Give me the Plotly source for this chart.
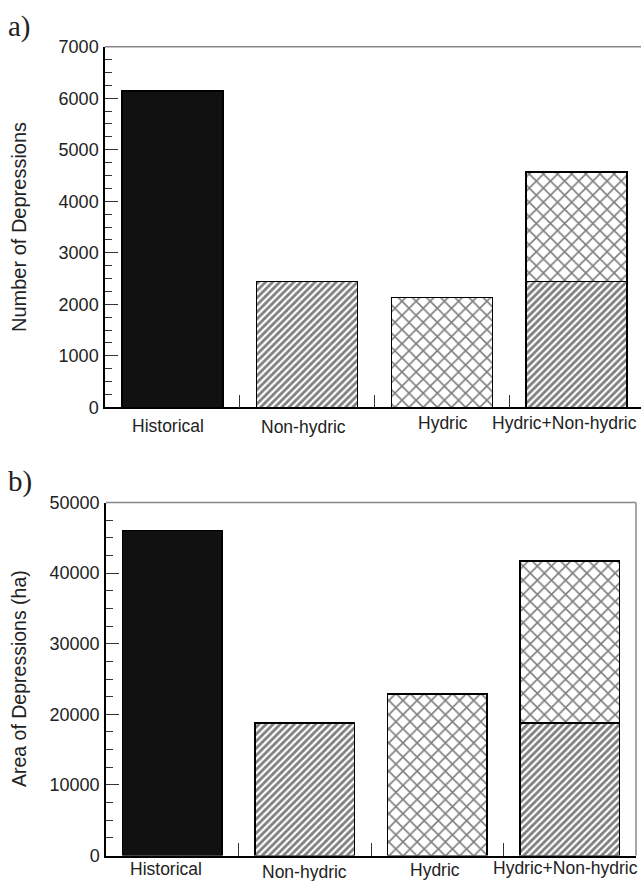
import plotly.graph_objects as go

W, H = 641, 881

categories = ["Historical", "Non-hydric", "Hydric", "Hydric+Non-hydric"]

# Panel a) Number of depressions
count_historical = [6140, None, None, None]
count_nonhydric = [None, 2440, None, 2440]
count_hydric = [None, None, 2130, 2130]

# Panel b) Area of depressions (ha)
area_historical = [46000, None, None, None]
area_nonhydric = [None, 18800, None, 18800]
area_hydric = [None, None, 22900, 22900]

yticks_a = [0, 1000, 2000, 3000, 4000, 5000, 6000, 7000]
yticks_b = [0, 10000, 20000, 30000, 40000, 50000]

FONT = "Liberation Sans, Arial, Helvetica, sans-serif"
SERIF = "Liberation Serif, Times New Roman, serif"

fig = go.Figure()

def add_panel(hist, nonh, hyd, xa, ya):
    fig.add_trace(go.Bar(x=categories, y=hist, xaxis=xa, yaxis=ya, width=0.75,
                         marker=dict(color="#111111", line=dict(color="black", width=1.5)),
                         showlegend=False))
    fig.add_trace(go.Bar(x=categories, y=nonh, xaxis=xa, yaxis=ya, width=0.75,
                         marker=dict(color="white", line=dict(color="black", width=1.5),
                                     pattern=dict(shape="/", size=5, solidity=0.55,
                                                  fgcolor="black", bgcolor="white")),
                         showlegend=False))
    fig.add_trace(go.Bar(x=categories, y=hyd, xaxis=xa, yaxis=ya, width=0.75,
                         marker=dict(color="white", line=dict(color="black", width=1.5),
                                     pattern=dict(shape="x", size=10, solidity=0.3,
                                                  fgcolor="black", bgcolor="white")),
                         showlegend=False))

add_panel(count_historical, count_nonhydric, count_hydric, "x", "y")
add_panel(area_historical, area_nonhydric, area_hydric, "x2", "y2")

def px_x(v):
    return v / W

def px_y(v):
    return 1 - v / H

common_x = dict(type="category", showgrid=False, zeroline=False, showline=True,
                linecolor="black", linewidth=1.5, ticks="inside", tickson="boundaries",
                ticklen=13, tickcolor="#333", tickwidth=1, showticklabels=False)
common_y = dict(showgrid=False, zeroline=False, showline=True, linecolor="black",
                linewidth=1.5, ticks="inside", ticklen=13, tickcolor="#333", tickwidth=1,
                tickfont=dict(family=FONT, size=18, color="#222"),
                ticklabelstandoff=1)

fig.update_layout(
    width=W, height=H,
    margin=dict(l=0, r=0, t=0, b=0, autoexpand=False),
    paper_bgcolor="white", plot_bgcolor="white",
    barmode="stack", bargap=0.25,
    xaxis=dict(domain=[px_x(105), 1.0], range=[-0.5, 3.478], anchor="y", **common_x),
    yaxis=dict(domain=[px_y(407.3), px_y(46.7)], range=[0, 7000], tickvals=yticks_a,
               ticktext=[str(v) for v in yticks_a],
               anchor="x", minor=dict(dtick=250, ticks="inside", ticklen=7, tickcolor="#333"),
               **common_y),
    xaxis2=dict(domain=[px_x(106), px_x(636)], range=[-0.5, 3.5], anchor="y2", **common_x),
    yaxis2=dict(domain=[px_y(855.5), px_y(502.5)], range=[0, 50000], tickvals=yticks_b,
                ticktext=[str(v) for v in yticks_b],
                anchor="x2", minor=dict(dtick=2500, ticks="inside", ticklen=7, tickcolor="#333"),
                **common_y),
)

# gray frame lines (top and right)
fig.add_shape(type="line", xref="paper", yref="paper", x0=px_x(105), x1=1.0,
              y0=px_y(46.7), y1=px_y(46.7), line=dict(color="#888", width=1.5))
fig.add_shape(type="line", xref="paper", yref="paper", x0=px_x(106), x1=px_x(636),
              y0=px_y(502.5), y1=px_y(502.5), line=dict(color="#888", width=1.5))
fig.add_shape(type="line", xref="paper", yref="paper", x0=px_x(636), x1=px_x(636),
              y0=px_y(855.5), y1=px_y(502.5), line=dict(color="#888", width=1.5))

# category labels (positions in pixels: center x, text middle y)
labels_a = [(168, 426), (303, 427), (443, 423), (564, 423)]
labels_b = [(166, 869), (304, 872), (435, 870), (565, 868)]
for cat, (cx, cy) in zip(categories, labels_a):
    fig.add_annotation(text=cat, xref="paper", yref="paper", x=px_x(cx), y=px_y(cy),
                       xanchor="center", yanchor="middle", showarrow=False,
                       font=dict(family=FONT, size=17.5, color="#222"))
for cat, (cx, cy) in zip(categories, labels_b):
    fig.add_annotation(text=cat, xref="paper", yref="paper", x=px_x(cx), y=px_y(cy),
                       xanchor="center", yanchor="middle", showarrow=False,
                       font=dict(family=FONT, size=17.5, color="#222"))

# axis titles
fig.add_annotation(text="Number of Depressions", xref="paper", yref="paper",
                   x=px_x(19), y=px_y(227), xanchor="center", yanchor="middle",
                   textangle=-90, showarrow=False, font=dict(family=FONT, size=20, color="#222"))
fig.add_annotation(text="Area of Depressions (ha)", xref="paper", yref="paper",
                   x=px_x(19), y=px_y(679), xanchor="center", yanchor="middle",
                   textangle=-90, showarrow=False, font=dict(family=FONT, size=19.5, color="#222"))

# panel letters
fig.add_annotation(text="a)", xref="paper", yref="paper", x=px_x(6), y=px_y(26),
                   xanchor="left", yanchor="middle", showarrow=False,
                   font=dict(family=SERIF, size=29, color="#222"))
fig.add_annotation(text="b)", xref="paper", yref="paper", x=px_x(6), y=px_y(481),
                   xanchor="left", yanchor="middle", showarrow=False,
                   font=dict(family=SERIF, size=29, color="#222"))

fig.write_html("out.html", config={"displayModeBar": False},
               post_script="document.body.style.margin='0';document.body.style.overflow='hidden';")
